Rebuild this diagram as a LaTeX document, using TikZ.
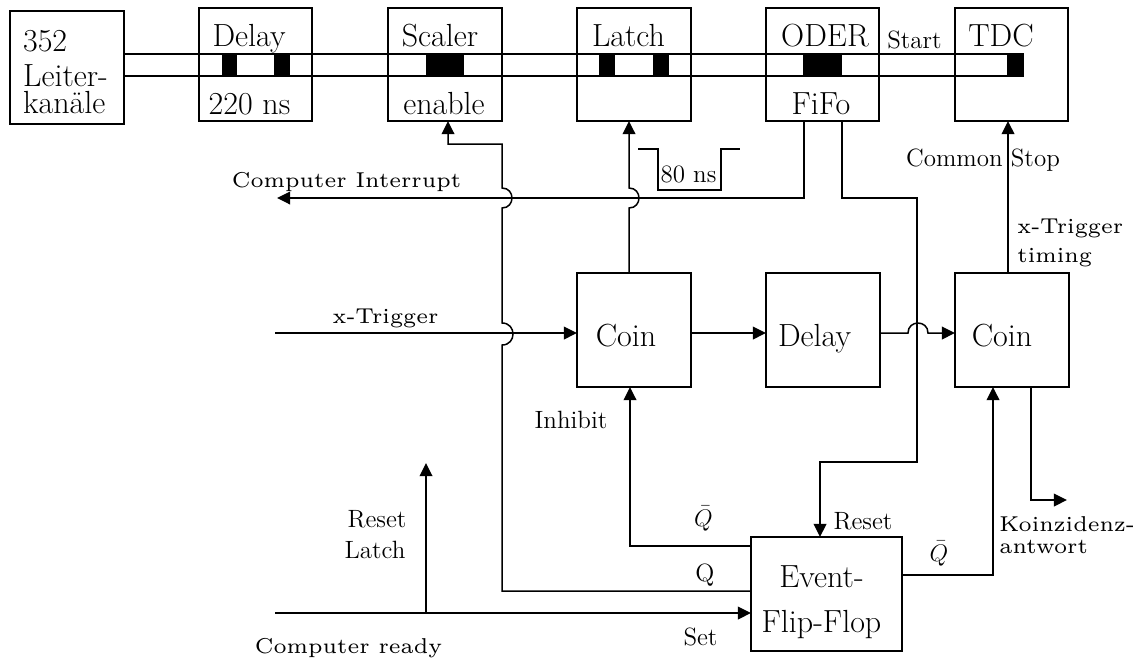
\documentclass[tikz,border=0pt]{standalone}
\usetikzlibrary{arrows.meta}
% wide small face (6pt design size, scaled up) for the signal names
\font\smallwideface="[lmroman6-regular]" at 10.75pt
\newcommand\fbig{\fontsize{16}{19}\selectfont}
\newcommand\fmed{\fontsize{12.5}{15}\selectfont}
\newcommand\fsml{\smallwideface}
\begin{document}
\begin{tikzpicture}[x=0.5pt,y=-0.5pt,
  ln/.style={line width=0.75pt},
  arr/.style={ln,-{Triangle[length=6.6pt,width=6.4pt]}},
  topbox/.style={draw,line width=0.75pt,minimum width=56.5pt,minimum height=56.5pt,inner sep=0pt,outer sep=0pt},
  midbox/.style={draw,line width=0.75pt,minimum width=57pt,minimum height=57pt,inner sep=0pt,outer sep=0pt},
  lbl/.style={inner sep=0pt,anchor=base},
  lblw/.style={inner sep=0pt,anchor=base west},
]
\useasboundingbox (0,0) rectangle (1141,659);

% ---- module row ----
\node[topbox,minimum width=57pt] (src) at (67,67.5) {};
\node[topbox] (dly) at (255.5,64.5) {};
\node[topbox,minimum width=57pt] (scl) at (445,64.5) {};
\node[topbox,minimum width=57pt] (ltc) at (634,64.5) {};
\node[topbox] (oder) at (822.5,64.5) {};
\node[topbox] (tdc) at (1011.5,64.5) {};

% ---- logic row ----
\node[midbox] (coin) at (634,330) {};
\node[midbox] (dl2) at (823,330) {};
\node[midbox] (coin2) at (1012,330) {};
\node[midbox,minimum width=75.5pt] (ff) at (826.5,594) {};

% ---- box texts ----
\node[lblw,font=\fbig] at (22.7,51.7) {352};
\node[lblw,font=\fbig] at (22.7,86) {Leiter-};
\node[lblw,font=\fbig] at (22.7,113.3) {kanäle};
\node[lbl,font=\fbig] at (249,46) {Delay};
\node[lbl,font=\fbig] at (249.5,114.5) {220 ns};
\node[lbl,font=\fbig] at (440,46) {Scaler};
\node[lbl,font=\fbig] at (444,114.5) {enable};
\node[lbl,font=\fbig] at (628.5,46) {Latch};
\node[lbl,font=\fbig] at (825,46) {ODER};
\node[lbl,font=\fbig] at (821,114.5) {FiFo};
\node[lbl,font=\fbig] at (1001,46) {TDC};
\node[lbl,font=\fbig] at (626,346.7) {Coin};
\node[lbl,font=\fbig] at (814.5,346.7) {Delay};
\node[lbl,font=\fbig] at (1002,346.7) {Coin};
\node[lbl,font=\fbig] at (821.5,587) {Event-};
\node[lbl,font=\fbig] at (821.5,632) {Flip-Flop};

% ---- bus through the modules ----
\coordinate (busA) at (1024,54);
\coordinate (busB) at (1024,76);
\draw[ln] (src.east |- busA) -- (busA);
\draw[ln] (src.east |- busB) -- (busB);
\fill (222,54) rectangle (237,76);
\fill (274,54) rectangle (290,76);
\fill (426,54) rectangle (464,76);
\fill (599,54) rectangle (615,76);
\fill (653,54) rectangle (669,76);
\fill (803,54) rectangle (842,76);
\fill (1007,54) rectangle (1024,76);
\node[lbl,font=\fmed] at (914.5,48) {Start};

% ---- helper coordinates ----
\coordinate (xLatch) at (629,0);
\coordinate (xInt) at (804,0);
\coordinate (xFifo) at (842,0);
\coordinate (xRst) at (820,0);
\coordinate (xStop) at (1008,0);
\coordinate (xQb) at (993,0);
\coordinate (xOut) at (1031,0);
\coordinate (xInh) at (630,0);
\coordinate (xEn) at (448,0);
\coordinate (ySig) at (0,333);
\coordinate (yQbl) at (0,546);
\coordinate (yQ) at (0,591);
\coordinate (ySet) at (0,613);
\coordinate (yQbr) at (0,575);
\coordinate (intEnd) at (277,198);
\coordinate (trgIn) at (275,333);
\coordinate (rdyIn) at (275,613);
\coordinate (rstLatch) at (426,463);
\coordinate (kzEnd) at (1067,500);

% ---- connectors ----
% latch strobe
\draw[arr] (xLatch |- coin.north) -- (629,208)
  .. controls (642.3,208) and (642.3,188) .. (629,188) -- (xLatch |- ltc.south);
% computer interrupt
\draw[arr] (xInt |- oder.south) -- (804,198) -- (intEnd);
% fifo to reset
\draw[arr] (xFifo |- oder.south) -- (842,198) -- (917,198) -- (917,462)
  -- (820,462) -- (xRst |- ff.north);
% Q to scaler enable
\draw[arr] (ff.west |- yQ) -- (502,591) -- (502,345)
  .. controls (516.7,345) and (516.7,323) .. (502,323) -- (502,208)
  .. controls (515.3,208) and (515.3,188) .. (502,188) -- (502,144) -- (448,144)
  -- (xEn |- scl.south);
% trigger chain
\draw[arr] (trgIn) -- (coin.west |- ySig);
\draw[arr] (coin.east |- ySig) -- (dl2.west |- ySig);
\draw[arr] (dl2.east |- ySig) -- (908,333)
  .. controls (908,319.7) and (928,319.7) .. (928,333) -- (coin2.west |- ySig);
% common stop
\draw[arr] (xStop |- coin2.north) -- (xStop |- tdc.south);
% flip-flop outputs
\draw[arr] (ff.east |- yQbr) -- (993,575) -- (xQb |- coin2.south);
\draw[arr] (ff.west |- yQbl) -- (630,546) -- (xInh |- coin.south);
\draw[arr] (xOut |- coin2.south) -- (1031,500) -- (kzEnd);
% computer ready / set
\draw[arr] (rdyIn) -- (ff.west |- ySet);
\draw[arr] (426,613) -- (rstLatch);

% 80 ns pulse
\draw[ln] (638,149) -- (658,149) -- (658,190) -- (721,190) -- (721,149) -- (740,149);

% ---- signal labels ----
\node[lbl,font=\fsml] at (346.5,187) {Computer Interrupt};
\node[lbl,font=\fmed] at (688.5,182) {80 ns};
\node[lbl,font=\fmed] at (983,166) {Common Stop};
\node[lblw,font=\fsml] at (1017,233) {x-Trigger};
\node[lblw,font=\fsml] at (1017,262) {timing};
\node[lbl,font=\fsml] at (385.5,323) {x-Trigger};
\node[lbl,font=\fmed] at (571,428) {Inhibit};
\node[lbl,font=\fmed] at (377,527) {Reset};
\node[lbl,font=\fmed] at (375,558) {Latch};
\node[lbl,font=\fmed] at (703.5,526) {$\bar{Q}$};
\node[lbl,font=\fmed] at (705,581) {Q};
\node[lbl,font=\fmed] at (700.5,645) {Set};
\node[lbl,font=\fmed] at (863,529) {Reset};
\node[lbl,font=\fmed] at (939,561) {$\bar{Q}$};
\node[lblw,font=\fsml] at (999,531) {Koinzidenz-};
\node[lblw,font=\fsml] at (999,553) {antwort};
\node[lbl,font=\fsml] at (348.5,653) {Computer ready};
\end{tikzpicture}
\end{document}
